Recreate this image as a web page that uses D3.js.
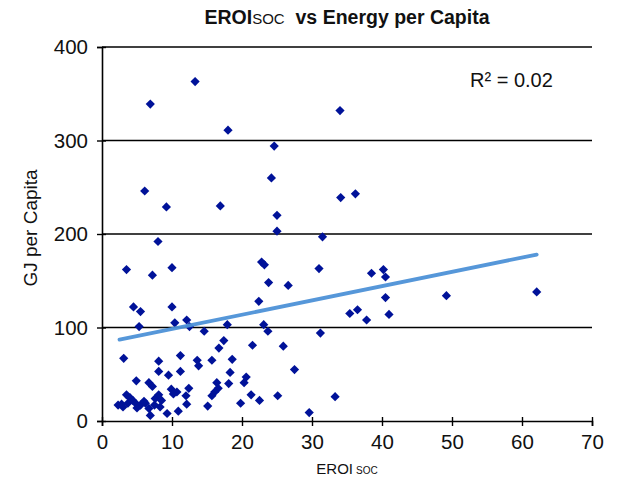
<!DOCTYPE html>
<html>
<head>
<meta charset="utf-8">
<script src="https://cdn.jsdelivr.net/npm/d3@7"></script>
<style>
  html, body { margin: 0; padding: 0; background: #fff; }
  svg { display: block; font-family: "Liberation Sans", Arial, Helvetica, sans-serif; }
</style>
</head>
<body>
<svg id="chart" width="634" height="489"></svg>
<script>
// ---- data ----
const eroiSoc = [
  13.3, 6.9, 18.0, 34.0, 24.6, 24.2, 6.1, 9.2, 16.9, 25.0, 25.0, 8.0, 34.1, 36.2, 31.5,
  3.5, 7.2, 10.0, 22.8, 23.2, 31.0, 23.8, 26.6, 38.5, 40.2, 40.5, 40.5, 49.2, 62.1, 22.4,
  4.5, 5.5, 10.0, 35.4, 36.5, 37.8, 41.0, 5.3, 10.4, 12.1, 12.5, 14.6, 17.9, 23.1, 23.7, 31.2,
  17.4, 16.7, 21.5, 25.9, 27.5, 3.1, 8.1, 11.2, 13.6, 13.8, 15.7, 18.6, 8.1, 9.5, 11.2, 18.3, 20.6,
  4.9, 6.7, 7.2, 9.9, 10.7, 10.2, 12.4, 12.0, 16.4, 16.6, 16.1, 15.7, 18.1, 20.3, 21.3, 22.5,
  25.1, 33.3, 19.8, 15.1, 12.1, 10.9, 9.3, 29.6, 3.5, 4.0, 2.3, 3.0, 3.7, 4.4, 4.8, 5.5, 6.2,
  6.7, 6.9, 7.6, 8.1, 8.5, 8.3, 6.0, 5.0, 7.5, 2.8
];
const gjPerCapita = [
  363, 339, 311, 332, 294, 260, 246, 229, 230, 220, 203, 192, 239, 243, 197,
  162, 156, 164, 170, 167, 163, 148, 145, 158, 162, 154, 132, 134, 138, 128,
  122, 117, 122, 115, 119, 108, 114, 101, 105, 108, 101, 96, 103, 103, 96, 94,
  86, 78, 81, 80, 55, 67, 64, 70, 65, 59, 65, 66, 53, 49, 53, 52, 47,
  43, 41, 37, 34, 31, 29, 35, 27, 41, 35, 31, 27, 40, 41, 28, 22,
  27, 26, 19, 16, 18, 10.5, 8, 9, 28, 25, 17, 15, 19, 22, 19, 17, 19,
  13.5, 6, 24, 28, 22, 15, 21, 14, 17, 18
];
const trendX = [2.5, 62.1];
const trendY = [87, 178];
const xTicks = [0, 10, 20, 30, 40, 50, 60, 70];
const yTicks = [0, 100, 200, 300, 400];
const r2Label = "R² = 0.02";

// ---- layout ----
const svg = d3.select("#chart");
const x = d3.scaleLinear().domain([0, 70]).range([102, 592]);
const y = d3.scaleLinear().domain([0, 400]).range([421, 47]);

// gridlines
svg.append("g").selectAll("line").data(yTicks.filter(d => d > 0)).join("line")
  .attr("x1", x(0)).attr("x2", x(70))
  .attr("y1", d => y(d)).attr("y2", d => y(d))
  .attr("stroke", "#000").attr("stroke-width", 1.6);

// y axis
const yAxis = svg.append("g").attr("transform", `translate(${x(0)},0)`)
  .call(d3.axisLeft(y).tickValues(yTicks).tickSize(5).tickPadding(9));
yAxis.select(".domain").attr("stroke", "#000").attr("stroke-width", 1.6);
yAxis.selectAll(".tick line").attr("stroke", "#000").attr("stroke-width", 1.4).attr("x2", -5).attr("x1", 4);
yAxis.selectAll("text").attr("font-size", 20.5).attr("fill", "#111")
  .attr("font-family", "Liberation Sans, Arial, sans-serif");

// x axis
const xAxis = svg.append("g").attr("transform", `translate(0,${y(0)})`)
  .call(d3.axisBottom(x).tickValues(xTicks).tickSize(5).tickPadding(8));
xAxis.select(".domain").attr("stroke", "#000").attr("stroke-width", 1.6);
xAxis.selectAll(".tick line").attr("stroke", "#000").attr("stroke-width", 1.4).attr("y1", -4).attr("y2", 5);
xAxis.selectAll("text").attr("font-size", 20.5).attr("fill", "#111")
  .attr("font-family", "Liberation Sans, Arial, sans-serif");

// points (diamonds)
const r = 4.6;
const diamond = `M0,${-r}L${r},0L0,${r}L${-r},0Z`;
svg.append("g").selectAll("path").data(d3.range(eroiSoc.length)).join("path")
  .attr("d", diamond)
  .attr("transform", i => `translate(${x(eroiSoc[i])},${y(gjPerCapita[i])})`)
  .attr("fill", "#001299");

// trend line
svg.append("line")
  .attr("x1", x(trendX[0])).attr("y1", y(trendY[0]))
  .attr("x2", x(trendX[1])).attr("y2", y(trendY[1]))
  .attr("stroke", "#4d92d8").attr("stroke-width", 3.8).attr("stroke-linecap", "round")
  .attr("opacity", 0.95);

// R² label
svg.append("text").attr("x", 470).attr("y", 87)
  .attr("font-size", 20).attr("fill", "#111").text(r2Label);

// title
const title = svg.append("text").attr("x", 347).attr("y", 24)
  .attr("text-anchor", "middle").attr("font-size", 19.5).attr("font-weight", "bold").attr("fill", "#111");
title.append("tspan").text("EROI");
title.append("tspan").attr("font-size", 15).attr("font-weight", "normal").text("SOC");
title.append("tspan").text("  vs Energy per Capita").attr("xml:space", "preserve");

// x axis title
const xt = svg.append("text").attr("x", 347).attr("y", 474)
  .attr("text-anchor", "middle").attr("font-size", 15).attr("fill", "#111");
xt.append("tspan").text("EROI");
xt.append("tspan").attr("font-size", 10).attr("dx", 3).text("SOC");

// y axis title
svg.append("text")
  .attr("transform", "translate(37,228) rotate(-90)")
  .attr("text-anchor", "middle").attr("font-size", 19).attr("fill", "#111")
  .text("GJ per Capita");
</script>
</body>
</html>
